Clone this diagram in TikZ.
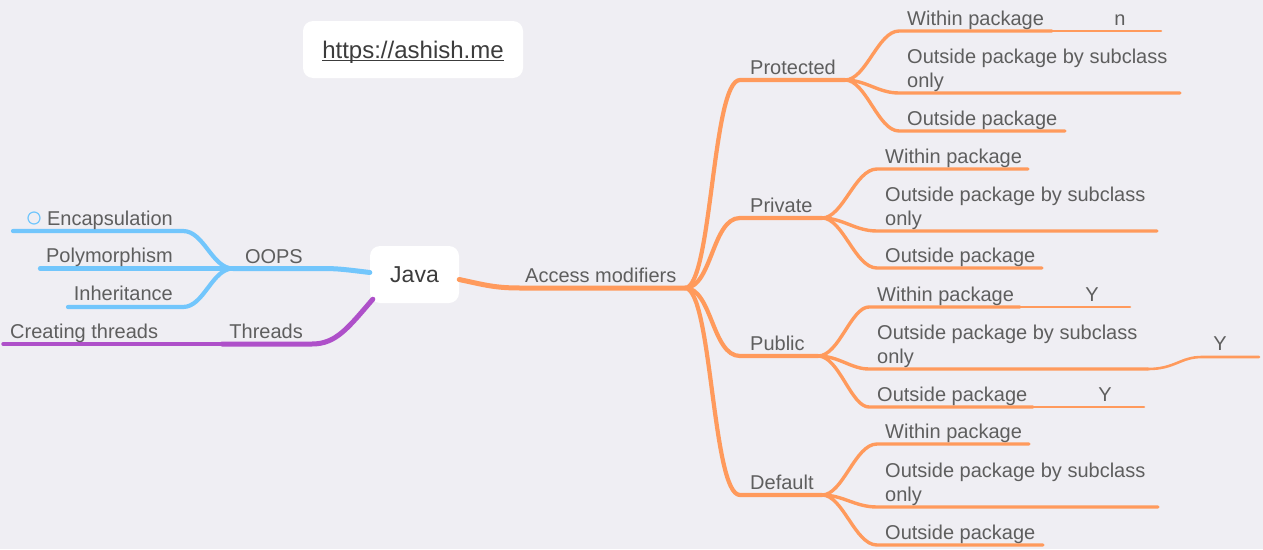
\documentclass[tikz,border=0pt]{standalone}
\usepackage{fontspec}
\setmainfont{Liberation Sans}
\definecolor{bg}{HTML}{EFEEF3}
\definecolor{txt}{HTML}{5E5E5E}
\definecolor{dark}{HTML}{3C3C3C}
\definecolor{org}{HTML}{FF9A5C}
\definecolor{blu}{HTML}{72C6FC}
\definecolor{pur}{HTML}{AE50C9}
\newcommand\labfont{\fontsize{20}{24}\selectfont}
\newcommand\twolines[2]{\vtop{\hbox{#1}\hbox{#2}}}
\begin{document}
\begin{tikzpicture}[x=1pt,y=-1pt,line cap=round,line join=round,
  lab/.style={inner sep=0pt,font=\labfont,text=txt},
  topic/.style={lab,anchor=base west},
  ltopic/.style={lab,anchor=base east},
  leaf/.style={lab,anchor=base},
  box/.style={fill=white,rounded corners=10pt,inner sep=0pt},
  wA/.style={line width=5pt},
  wB/.style={line width=4.2pt},
  wC/.style={line width=3.4pt},
  wD/.style={line width=2.6pt}]
\fill[bg] (0,0) rectangle (1263,549);
\useasboundingbox (0,0) rectangle (1263,549);

% ---- central and url boxes
\node[box,minimum width=89pt,minimum height=57pt,font=\fontsize{23}{27}\selectfont,text=dark] (java) at (414.5,274.5) {Java};
\node[box,minimum width=220pt,minimum height=57pt] (urlbox) at (413,49.5) {};
\node[lab,anchor=base,font=\fontsize{24}{28}\selectfont,text=dark] (urltxt) at (413,58) {https://ashish.me};
\draw[dark,line width=1.5pt,line cap=butt] ([yshift=-2.6pt]urltxt.base west) -- ([yshift=-2.6pt]urltxt.base east);

% ---- left: OOPS (blue)
\coordinate (oJ) at (233,268.5);
\coordinate (encE) at (13,231);
\coordinate (polE) at (40,268.5);
\coordinate (inhE) at (68,307);
\draw[blu,wA] ([yshift=2pt]java.west) .. controls (345,269.5) and (338,268.5) .. (322,268.5) -- (oJ);
\draw[blu,wB] (oJ) .. controls (212,268.5) and (204,231) .. (183,231) -- (encE);
\draw[blu,wB] (oJ) -- (polE);
\draw[blu,wB] (oJ) .. controls (212,268.5) and (204,307) .. (183,307) -- (inhE);
\node[ltopic] (oops) at (303,263) {OOPS};
\node[ltopic] (enc) at (173,225) {Encapsulation};
\node[ltopic] (pol) at (173,262.7) {Polymorphism};
\node[ltopic] (inh) at (173,300.7) {Inheritance};
\node[draw=blu,line width=1.2pt,circle,minimum size=12pt,inner sep=0pt] (encicon) at (34,218) {};

% ---- left: Threads (purple)
\coordinate (tJ) at (222,344);
\coordinate (ctE) at (3,344);
\draw[pur,wA] ([shift={(3pt,4pt)}]java.south west) .. controls (348,328) and (336,344) .. (312,344) -- (tJ);
\draw[pur,wC] (tJ) -- (ctE);
\node[ltopic] (thr) at (303,338) {Threads};
\node[topic] (cthr) at (10,338) {Creating threads};

% ---- right: Access modifiers (orange)
\coordinate (aJ) at (685,288);
\draw[org,wA] ([yshift=-5pt]java.east) .. controls (485,285) and (495,288) .. (520,288) -- (aJ);
\node[topic] (acc) at (525,282) {Access modifiers};

% level 2 junctions
\coordinate (pJ) at (845,80);
\coordinate (vJ) at (822,218);
\coordinate (uJ) at (818,356);
\coordinate (dJ) at (822,495);
\draw[org,wB] (aJ) .. controls (712,288) and (712,80) .. (740,80) -- (pJ);
\draw[org,wB] (aJ) .. controls (712,288) and (712,218) .. (740,218) -- (vJ);
\draw[org,wB] (aJ) .. controls (712,288) and (712,356) .. (740,356) -- (uJ);
\draw[org,wB] (aJ) .. controls (712,288) and (712,495) .. (740,495) -- (dJ);
\node[topic] (prot) at (750,74) {Protected};
\node[topic] (priv) at (750,212) {Private};
\node[topic] (pub) at (750,350) {Public};
\node[topic] (def) at (750,489) {Default};

% ---- Protected children
\coordinate (p1E) at (1052,31);
\coordinate (p2E) at (1180,93);
\coordinate (p3E) at (1065,131);
\coordinate (p1nE) at (1161,31);
\draw[org,wC] (pJ) .. controls (866,80) and (878,31) .. (899,31) -- (p1E);
\draw[org,wC] (pJ) .. controls (866,80) and (878,93) .. (899,93) -- (p2E);
\draw[org,wC] (pJ) .. controls (866,80) and (878,131) .. (899,131) -- (p3E);
\draw[org,wD] (p1E) -- (p1nE);
\node[topic] (p1) at (907,25) {Within package};
\node[topic] (p2) at (907,63) {\twolines{Outside package by subclass}{only}};
\node[topic] (p3) at (907,125) {Outside package};
\node[leaf] (p1n) at (1120,25) {n};

% ---- Private children
\coordinate (v1E) at (1028,169);
\coordinate (v2E) at (1157,231);
\coordinate (v3E) at (1042,268);
\draw[org,wC] (vJ) .. controls (843,218) and (855,169) .. (877,169) -- (v1E);
\draw[org,wC] (vJ) .. controls (843,218) and (855,231) .. (877,231) -- (v2E);
\draw[org,wC] (vJ) .. controls (843,218) and (855,268) .. (877,268) -- (v3E);
\node[topic] (v1) at (885,163) {Within package};
\node[topic] (v2) at (885,201) {\twolines{Outside package by subclass}{only}};
\node[topic] (v3) at (885,262) {Outside package};

% ---- Public children
\coordinate (u1E) at (1020,307);
\coordinate (u2E) at (1148,369);
\coordinate (u3E) at (1033,407);
\coordinate (u1yE) at (1130,307);
\coordinate (u2yE) at (1259,357);
\coordinate (u3yE) at (1144,407);
\draw[org,wC] (uJ) .. controls (839,356) and (851,307) .. (869,307) -- (u1E);
\draw[org,wC] (uJ) .. controls (839,356) and (851,369) .. (869,369) -- (u2E);
\draw[org,wC] (uJ) .. controls (839,356) and (851,407) .. (869,407) -- (u3E);
\draw[org,wD] (u1E) -- (u1yE);
\draw[org,wD] (u2E) .. controls (1175,369) and (1180,357) .. (1202,357) -- (u2yE);
\draw[org,wD] (u3E) -- (u3yE);
\node[topic] (u1) at (877,301) {Within package};
\node[topic] (u2) at (877,339) {\twolines{Outside package by subclass}{only}};
\node[topic] (u3) at (877,401) {Outside package};
\node[leaf] (u1y) at (1092,301) {Y};
\node[leaf] (u2y) at (1220,350) {Y};
\node[leaf] (u3y) at (1105,401) {Y};

% ---- Default children
\coordinate (d1E) at (1029,444);
\coordinate (d2E) at (1158,507);
\coordinate (d3E) at (1043,545);
\draw[org,wC] (dJ) .. controls (843,495) and (855,444) .. (877,444) -- (d1E);
\draw[org,wC] (dJ) .. controls (843,495) and (855,507) .. (877,507) -- (d2E);
\draw[org,wC] (dJ) .. controls (843,495) and (855,545) .. (877,545) -- (d3E);
\node[topic] (d1) at (885,438) {Within package};
\node[topic] (d2) at (885,477) {\twolines{Outside package by subclass}{only}};
\node[topic] (d3) at (885,539) {Outside package};
\end{tikzpicture}
\end{document}
